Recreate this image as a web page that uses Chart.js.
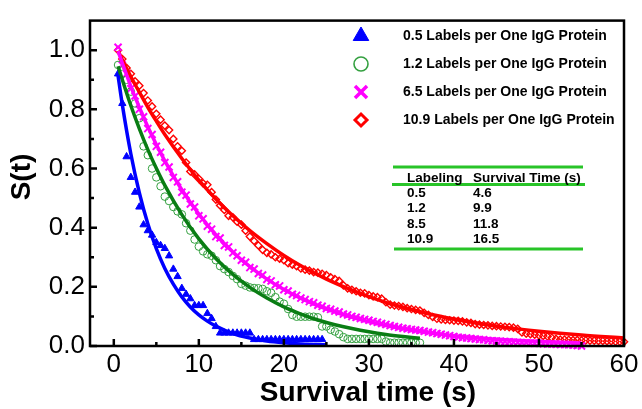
<!DOCTYPE html>
<html>
<head>
<meta charset="utf-8">
<script src="https://cdn.jsdelivr.net/npm/chart.js@4.4.0/dist/chart.umd.min.js"></script>
<style>
html, body { margin: 0; padding: 0; background: #fff; }
#wrap { width: 642px; height: 409px; }
</style>
</head>
<body>
<div id="wrap"><canvas id="survChart"></canvas></div>
<script>
// sampling times (s) shared by the measured curves
const times = [
	0.5, 1, 1.5, 2, 2.5, 3, 3.5, 4, 4.5, 5, 5.5, 6, 6.5, 7, 7.5, 8, 8.5, 9, 9.5, 10,
	10.5, 11, 11.5, 12, 12.5, 13, 13.5, 14, 14.5, 15, 15.5, 16, 16.5, 17, 17.5, 18, 18.5, 19, 19.5, 20,
	20.5, 21, 21.5, 22, 22.5, 23, 23.5, 24, 24.5, 25, 25.5, 26, 26.5, 27, 27.5, 28, 28.5, 29, 29.5, 30,
	30.5, 31, 31.5, 32, 32.5, 33, 33.5, 34, 34.5, 35, 35.5, 36, 36.5, 37, 37.5, 38, 38.5, 39, 39.5, 40,
	40.5, 41, 41.5, 42, 42.5, 43, 43.5, 44, 44.5, 45, 45.5, 46, 46.5, 47, 47.5, 48, 48.5, 49, 49.5, 50,
	50.5, 51, 51.5, 52, 52.5, 53, 53.5, 54, 54.5, 55, 55.5, 56, 56.5, 57, 57.5, 58, 58.5, 59, 59.5, 60
];

// measured S(t)
const blueS = [
	0.92, 0.82, 0.64, 0.57, 0.52, 0.47, 0.41, 0.39, 0.375, 0.35,
	0.34, 0.33, 0.305, 0.26, 0.235, 0.195, 0.175, 0.16, 0.137, 0.137,
	0.137, 0.11, 0.093, 0.066, 0.044, 0.044, 0.044, 0.044, 0.044, 0.044,
	0.044, 0.044, 0.022, 0.022, 0.022, 0.022, 0.022, 0.022, 0.022, 0.022,
	0.022, 0.022, 0.022, 0.022, 0.022, 0.022, 0.022, 0.022, 0.022
];
const greenS = [
	0.95, 0.92, 0.90, 0.86, 0.82, 0.77, 0.675, 0.645, 0.60, 0.57,
	0.54, 0.505, 0.49, 0.47, 0.455, 0.445, 0.415, 0.39, 0.36, 0.336,
	0.32, 0.31, 0.305, 0.29, 0.27, 0.26, 0.25, 0.237, 0.226, 0.21,
	0.204, 0.198, 0.196, 0.195, 0.193, 0.185, 0.18, 0.165, 0.15, 0.143,
	0.125, 0.105, 0.099, 0.099, 0.099, 0.099, 0.099, 0.097, 0.066, 0.066,
	0.055, 0.049, 0.04, 0.03, 0.024, 0.024, 0.024, 0.024, 0.024, 0.024,
	0.024, 0.024, 0.024, 0.015, 0.011, 0.011, 0.011, 0.011, 0.011, 0.011,
	0.011, 0.011
];
const magentaS = [
	1.01, 0.95, 0.92, 0.87, 0.845, 0.80, 0.775, 0.735, 0.715, 0.675,
	0.655, 0.62, 0.605, 0.57, 0.555, 0.52, 0.51, 0.48, 0.47, 0.44,
	0.43, 0.405, 0.395, 0.37, 0.365, 0.34, 0.335, 0.315, 0.305, 0.29,
	0.283, 0.265, 0.26, 0.245, 0.24, 0.225, 0.22, 0.207, 0.203, 0.19,
	0.186, 0.175, 0.171, 0.162, 0.157, 0.15, 0.146, 0.138, 0.134, 0.127,
	0.124, 0.118, 0.115, 0.108, 0.105, 0.1, 0.097, 0.093, 0.09, 0.087,
	0.083, 0.08, 0.076, 0.073, 0.069, 0.066, 0.063, 0.06, 0.058, 0.056,
	0.054, 0.052, 0.05, 0.047, 0.045, 0.042, 0.04, 0.037, 0.035, 0.032,
	0.03, 0.028, 0.027, 0.025, 0.024, 0.022, 0.021, 0.019, 0.018, 0.017,
	0.016, 0.015, 0.014, 0.013, 0.012, 0.011, 0.011, 0.01, 0.009, 0.009,
	0.008, 0.007, 0.007, 0.006, 0.005, 0.005, 0.004, 0.003, 0.002, 0.0
];
const redS = [
	1.00, 0.97, 0.94, 0.92, 0.895, 0.88, 0.855, 0.83, 0.81, 0.785,
	0.765, 0.745, 0.73, 0.70, 0.675, 0.66, 0.62, 0.59, 0.58, 0.565,
	0.55, 0.545, 0.52, 0.495, 0.475, 0.46, 0.44, 0.435, 0.42, 0.41,
	0.39, 0.37, 0.355, 0.34, 0.325, 0.315, 0.31, 0.30, 0.295, 0.29,
	0.28, 0.275, 0.27, 0.262, 0.258, 0.255, 0.25, 0.248, 0.244, 0.24,
	0.232, 0.226, 0.22, 0.205, 0.195, 0.19, 0.185, 0.18, 0.178, 0.172,
	0.168, 0.165, 0.16, 0.148, 0.14, 0.137, 0.135, 0.132, 0.128, 0.125,
	0.122, 0.12, 0.112, 0.105, 0.098, 0.092, 0.09, 0.088, 0.087, 0.086,
	0.085, 0.083, 0.08, 0.078, 0.074, 0.072, 0.071, 0.07, 0.068, 0.067,
	0.066, 0.065, 0.064, 0.062, 0.058, 0.046, 0.042, 0.04, 0.038, 0.036,
	0.034, 0.032, 0.028, 0.024, 0.022, 0.022, 0.021, 0.02, 0.02, 0.019,
	0.019, 0.018, 0.018, 0.017, 0.017, 0.016, 0.016, 0.015, 0.015, 0.014
];

// exponential fit curves
const blueFitT = [0.5, 1, 2, 3, 4, 5, 6, 7, 8, 9, 10, 11, 12, 14, 16, 18, 20, 22, 25];
const blueFitS = [0.914, 0.816, 0.65, 0.518, 0.413, 0.329, 0.262, 0.209, 0.166, 0.132, 0.105, 0.084, 0.067, 0.042, 0.027, 0.017, 0.011, 0.007, 0.004];
const greenFitT = [0.5, 1, 2, 3, 4, 5, 6, 8, 10, 12, 14, 16, 18, 20, 22, 24, 26, 28, 30, 32, 34, 36];
const greenFitS = [0.946, 0.9, 0.813, 0.735, 0.664, 0.601, 0.543, 0.444, 0.362, 0.296, 0.242, 0.198, 0.162, 0.132, 0.108, 0.088, 0.072, 0.059, 0.048, 0.039, 0.032, 0.026];
const magentaFitT = [0.5, 1, 2, 3, 4, 5, 6, 8, 10, 12, 14, 16, 18, 20, 22, 25, 28, 31, 34, 37, 40, 43, 46, 50, 55];
const magentaFitS = [0.997, 0.956, 0.878, 0.807, 0.741, 0.681, 0.626, 0.528, 0.446, 0.376, 0.318, 0.268, 0.226, 0.191, 0.161, 0.125, 0.097, 0.075, 0.058, 0.045, 0.035, 0.027, 0.021, 0.015, 0.01];
const redFitT = [0.5, 1, 2, 3, 4, 5, 6, 8, 10, 12, 14, 16, 18, 20, 22, 25, 28, 31, 34, 37, 40, 43, 46, 50, 55, 60];
const redFitS = [0.998, 0.968, 0.911, 0.858, 0.807, 0.76, 0.715, 0.634, 0.561, 0.497, 0.44, 0.39, 0.346, 0.306, 0.271, 0.226, 0.189, 0.157, 0.131, 0.109, 0.091, 0.076, 0.063, 0.05, 0.037, 0.027];

const legendLabels = [
	'0.5 Labels per One IgG Protein',
	'1.2 Labels per One IgG Protein',
	'6.5 Labels per One IgG Protein',
	'10.9 Labels per One IgG Protein'
];
const tableHead = ['Labeling', 'Survival Time (s)'];
const tableLabeling = ['0.5', '1.2', '8.5', '10.9'];
const tableSurvival = ['4.6', '9.9', '11.8', '16.5'];

const xTicks = [0, 10, 20, 30, 40, 50, 60];
const xMinor = [5, 15, 25, 35, 45, 55];
const yTicks = [0, 0.2, 0.4, 0.6, 0.8, 1.0];
const yMinor = [0.1, 0.3, 0.5, 0.7, 0.9];

const FONT = '"Liberation Sans", Arial, sans-serif';

function toPoints(xs, ys) {
	return ys.map((y, i) => ({x: xs[i], y: y}));
}

let markerSets = [
	{label: legendLabels[0], data: toPoints(times, blueS), pointStyle: 'triangle', radius: 4.2,
		borderColor: '#0000ff', backgroundColor: '#0000ff', borderWidth: 1, legendRadius: 9, legendWidth: 1},
	{label: legendLabels[1], data: toPoints(times, greenS), pointStyle: 'circle', radius: 3.8,
		borderColor: '#34a040', backgroundColor: 'rgba(0,0,0,0)', borderWidth: 1, legendRadius: 7, legendWidth: 1.6},
	{label: legendLabels[2], data: toPoints(times, magentaS), pointStyle: 'crossRot', radius: 5,
		borderColor: '#ff00ff', backgroundColor: '#ff00ff', borderWidth: 2, legendRadius: 8.5, legendWidth: 3.5},
	{label: legendLabels[3], data: toPoints(times, redS), pointStyle: 'rectRot', radius: 3.6,
		borderColor: '#ff0000', backgroundColor: 'rgba(0,0,0,0)', borderWidth: 1.4, legendRadius: 6, legendWidth: 3}
];

let fitSets = [
	{data: toPoints(blueFitT, blueFitS), color: '#0000ff'},
	{data: toPoints(greenFitT, greenFitS), color: '#0a7d14'},
	{data: toPoints(magentaFitT, magentaFitS), color: '#ff00ff'},
	{data: toPoints(redFitT, redFitS), color: '#ff0000'}
];

let datasets = [];
markerSets.forEach(m => {
	datasets.push({
		type: 'scatter',
		label: m.label,
		data: m.data,
		showLine: false,
		pointStyle: m.pointStyle,
		pointRadius: m.radius,
		pointBorderColor: m.borderColor,
		pointBackgroundColor: m.backgroundColor,
		pointBorderWidth: m.borderWidth,
		clip: false,
		order: 2
	});
});
fitSets.forEach(f => {
	datasets.push({
		type: 'line',
		data: f.data,
		borderColor: f.color,
		borderWidth: 3.5,
		pointRadius: 0,
		fill: false,
		cubicInterpolationMode: 'monotone',
		clip: false,
		order: 1
	});
});

const decorPlugin = {
	id: 'decor',
	afterDraw(chart) {
		const ctx = chart.ctx;
		const area = chart.chartArea;
		const xs = chart.scales.x;
		const ys = chart.scales.y;
		ctx.save();

		// frame
		ctx.strokeStyle = '#000';
		ctx.lineWidth = 2.5;
		ctx.strokeRect(area.left, area.top, area.right - area.left, area.bottom - area.top);

		// inward ticks
		ctx.beginPath();
		xTicks.forEach(v => {
			let px = xs.getPixelForValue(v);
			ctx.moveTo(px, area.bottom);
			ctx.lineTo(px, area.bottom - 7);
		});
		xMinor.forEach(v => {
			let px = xs.getPixelForValue(v);
			ctx.moveTo(px, area.bottom);
			ctx.lineTo(px, area.bottom - 4);
		});
		yTicks.forEach(v => {
			let py = ys.getPixelForValue(v);
			ctx.moveTo(area.left, py);
			ctx.lineTo(area.left + 7, py);
		});
		yMinor.forEach(v => {
			let py = ys.getPixelForValue(v);
			ctx.moveTo(area.left, py);
			ctx.lineTo(area.left + 4, py);
		});
		ctx.stroke();

		// legend
		ctx.font = 'bold 14px ' + FONT;
		ctx.textBaseline = 'middle';
		ctx.textAlign = 'left';
		markerSets.forEach((m, i) => {
			let y = 36 + i * 28;
			ctx.strokeStyle = m.borderColor;
			ctx.fillStyle = m.backgroundColor;
			ctx.lineWidth = m.legendWidth;
			Chart.helpers.drawPoint(ctx, {pointStyle: m.pointStyle, radius: m.legendRadius, rotation: 0, borderWidth: m.legendWidth}, 361, y);
			ctx.fillStyle = '#000';
			ctx.fillText(m.label, 403, y);
		});

		// survival time table
		ctx.strokeStyle = 'rgb(40,196,40)';
		ctx.lineWidth = 3;
		ctx.beginPath();
		ctx.moveTo(393, 167); ctx.lineTo(583, 167);
		ctx.moveTo(392, 184.5); ctx.lineTo(585, 184.5);
		ctx.moveTo(394, 249); ctx.lineTo(583, 249);
		ctx.stroke();
		ctx.fillStyle = '#000';
		ctx.font = 'bold 13.5px ' + FONT;
		ctx.textBaseline = 'alphabetic';
		ctx.fillText(tableHead[0], 407, 182);
		ctx.fillText(tableHead[1], 473, 182);
		ctx.textBaseline = 'middle';
		tableLabeling.forEach((t, i) => {
			let y = 193 + i * 15.5;
			ctx.fillText(t, 407, y);
			ctx.fillText(tableSurvival[i], 473, y);
		});

		// axis titles
		ctx.font = 'bold 28px ' + FONT;
		ctx.textAlign = 'center';
		ctx.textBaseline = 'middle';
		ctx.fillText('Survival time (s)', 368, 393);
		ctx.translate(22, 177);
		ctx.rotate(-Math.PI / 2);
		ctx.fillText('S(t)', 0, 0);

		ctx.restore();
	}
};

let config = {
	type: 'scatter',
	data: {datasets: datasets},
	options: {
		responsive: true,
		maintainAspectRatio: false,
		animation: false,
		layout: {
			padding: {left: 0, right: 18, top: 14, bottom: 0}
		},
		scales: {
			x: {
				type: 'linear',
				min: -2.8,
				max: 60,
				afterBuildTicks: s => { s.ticks = xTicks.map(v => ({value: v})); },
				afterFit: s => { s.height = 63; },
				ticks: {
					color: '#000',
					padding: 3,
					maxRotation: 0,
					font: {family: FONT, size: 26}
				},
				grid: {display: false, drawTicks: false},
				border: {display: false}
			},
			y: {
				type: 'linear',
				min: 0,
				max: 1.1,
				afterBuildTicks: s => { s.ticks = yTicks.map(v => ({value: v})); },
				afterFit: s => { s.width = 90; },
				ticks: {
					color: '#000',
					padding: 5,
					font: {family: FONT, size: 26},
					callback: v => v.toFixed(1)
				},
				grid: {display: false, drawTicks: false},
				border: {display: false}
			}
		},
		plugins: {
			legend: {display: false},
			tooltip: {enabled: false}
		}
	},
	plugins: [decorPlugin]
};

let chart = new Chart(document.getElementById('survChart').getContext('2d'), config);
</script>
</body>
</html>
